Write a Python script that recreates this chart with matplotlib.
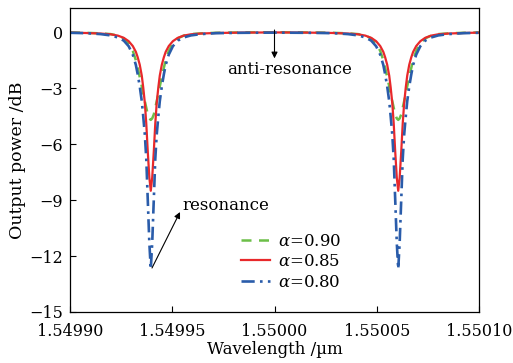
import matplotlib
matplotlib.use("Agg")
import matplotlib.pyplot as plt

plt.rcParams['font.family'] = ['DejaVu Serif']
plt.rcParams['mathtext.fontset'] = 'dejavuserif'

# wavelength samples (um), dense around the two resonances
wavelength = [
    1.5499000, 1.5499077, 1.5499150, 1.5499199, 1.5499234, 1.5499263, 1.5499287, 1.5499307, 1.5499322,
    1.5499331, 1.5499341, 1.5499351, 1.5499358, 1.5499366, 1.5499373, 1.5499380, 1.5499388, 1.5499395,
    1.5499402, 1.5499410, 1.5499417, 1.5499424, 1.5499432, 1.5499439, 1.5499449, 1.5499459, 1.5499468,
    1.5499483, 1.5499503, 1.5499527, 1.5499556, 1.5499591, 1.5499640, 1.5499713, 1.5499835,
    1.5500000,
    1.5500165, 1.5500287, 1.5500360, 1.5500409, 1.5500444, 1.5500473, 1.5500497, 1.5500517, 1.5500532,
    1.5500541, 1.5500551, 1.5500561, 1.5500568, 1.5500576, 1.5500583, 1.5500590, 1.5500598, 1.5500605,
    1.5500612, 1.5500620, 1.5500627, 1.5500634, 1.5500642, 1.5500649, 1.5500659, 1.5500669, 1.5500678,
    1.5500693, 1.5500713, 1.5500737, 1.5500766, 1.5500801, 1.5500850, 1.5500923, 1.5501000,
]

power_090 = [
    -0.01, -0.03, -0.06, -0.1, -0.18, -0.33, -0.6, -1.0, -1.5, -1.9, -2.4, -2.9, -3.3, -3.7, -4.05, -4.4, -4.62, -4.7,
    -4.62, -4.4, -4.05, -3.7, -3.3, -2.9, -2.4, -1.9, -1.5, -1.0, -0.6, -0.33, -0.18, -0.1, -0.06, -0.03, -0.01,
    0.0,
    -0.01, -0.03, -0.06, -0.1, -0.18, -0.33, -0.6, -1.0, -1.5, -1.9, -2.4, -2.9, -3.3, -3.7, -4.05, -4.4, -4.62, -4.7,
    -4.62, -4.4, -4.05, -3.7, -3.3, -2.9, -2.4, -1.9, -1.5, -1.0, -0.6, -0.33, -0.18, -0.1, -0.06, -0.03, -0.01,
]

power_085 = [
    -0.02, -0.04, -0.07, -0.11, -0.18, -0.3, -0.48, -0.74, -1.05, -1.34, -1.74, -2.33, -2.95, -3.8, -4.9, -6.35, -7.8, -8.5,
    -7.8, -6.35, -4.9, -3.8, -2.95, -2.33, -1.74, -1.34, -1.05, -0.74, -0.48, -0.3, -0.18, -0.11, -0.07, -0.04, -0.02,
    -0.01,
    -0.02, -0.04, -0.07, -0.11, -0.18, -0.3, -0.48, -0.74, -1.05, -1.34, -1.74, -2.33, -2.95, -3.8, -4.9, -6.35, -7.8, -8.5,
    -7.8, -6.35, -4.9, -3.8, -2.95, -2.33, -1.74, -1.34, -1.05, -0.74, -0.48, -0.3, -0.18, -0.11, -0.07, -0.04, -0.02,
]

power_080 = [
    -0.03, -0.05, -0.1, -0.17, -0.28, -0.45, -0.75, -1.2, -1.75, -2.25, -2.9, -3.7, -4.5, -5.5, -6.8, -8.9, -11.3, -12.7,
    -11.3, -8.9, -6.8, -5.5, -4.5, -3.7, -2.9, -2.25, -1.75, -1.2, -0.75, -0.45, -0.28, -0.17, -0.1, -0.05, -0.03,
    -0.02,
    -0.03, -0.05, -0.1, -0.17, -0.28, -0.45, -0.75, -1.2, -1.75, -2.25, -2.9, -3.7, -4.5, -5.5, -6.8, -8.9, -11.3, -12.7,
    -11.3, -8.9, -6.8, -5.5, -4.5, -3.7, -2.9, -2.25, -1.75, -1.2, -0.75, -0.45, -0.28, -0.17, -0.1, -0.05, -0.03,
]

x_ticks = [1.54990, 1.54995, 1.55000, 1.55005, 1.55010]
x_tick_labels = ['1.54990', '1.54995', '1.55000', '1.55005', '1.55010']
y_ticks = [0, -3, -6, -9, -12, -15]

fig = plt.figure(figsize=(5.13, 3.63), dpi=100)
ax = fig.add_axes([70 / 513, 51 / 363, 409 / 513, 304 / 363])

ax.plot(wavelength, power_090, color='#6cbf48', lw=1.8, ls=(0, (4, 3)), label=r'$\alpha$=0.90')
ax.plot(wavelength, power_085, color='#e8282b', lw=1.6, label=r'$\alpha$=0.85')
ax.plot(wavelength, power_080, color='#2a5caa', lw=1.9, ls=(0, (5, 2, 1, 2)), label=r'$\alpha$=0.80')

ax.set_xlim(1.54990, 1.55010)
ax.set_ylim(-15, 1.3)
ax.set_xticks(x_ticks)
ax.set_xticklabels(x_tick_labels)
ax.set_yticks(y_ticks)
ax.set_yticklabels(['0' if v == 0 else '\u2212%d' % -v for v in y_ticks])
ax.tick_params(direction='in', length=4, width=0.8, labelsize=11.5, pad=5)
ax.tick_params(axis='x', pad=8)
for s in ax.spines.values():
    s.set_linewidth(0.9)

ax.set_xlabel('Wavelength /\u00b5m', fontsize=12, labelpad=1)
ax.set_ylabel('Output power /dB', fontsize=12.5, labelpad=2)

# anti-resonance marker
ax.annotate('', xy=(1.55000, -1.4), xytext=(1.55000, 0.12),
            arrowprops=dict(arrowstyle='-|>', color='k', lw=0.8, mutation_scale=9, shrinkA=0, shrinkB=0))
ax.text(1.5500076, -1.98, 'anti-resonance', fontsize=12, ha='center', va='center')

# resonance marker
ax.annotate('', xy=(1.5499538, -9.64), xytext=(1.5499401, -12.64),
            arrowprops=dict(arrowstyle='-|>', color='k', lw=0.8, mutation_scale=9, shrinkA=0, shrinkB=0))
ax.text(1.5499548, -9.3, 'resonance', fontsize=12, ha='left', va='center')

ax.legend(loc='upper left', bbox_to_anchor=(0.417, 0.26), frameon=False, fontsize=12,
          handlelength=1.75, handletextpad=0.5, labelspacing=0.2, borderpad=0, borderaxespad=0)

plt.savefig('out.png', dpi=100)
